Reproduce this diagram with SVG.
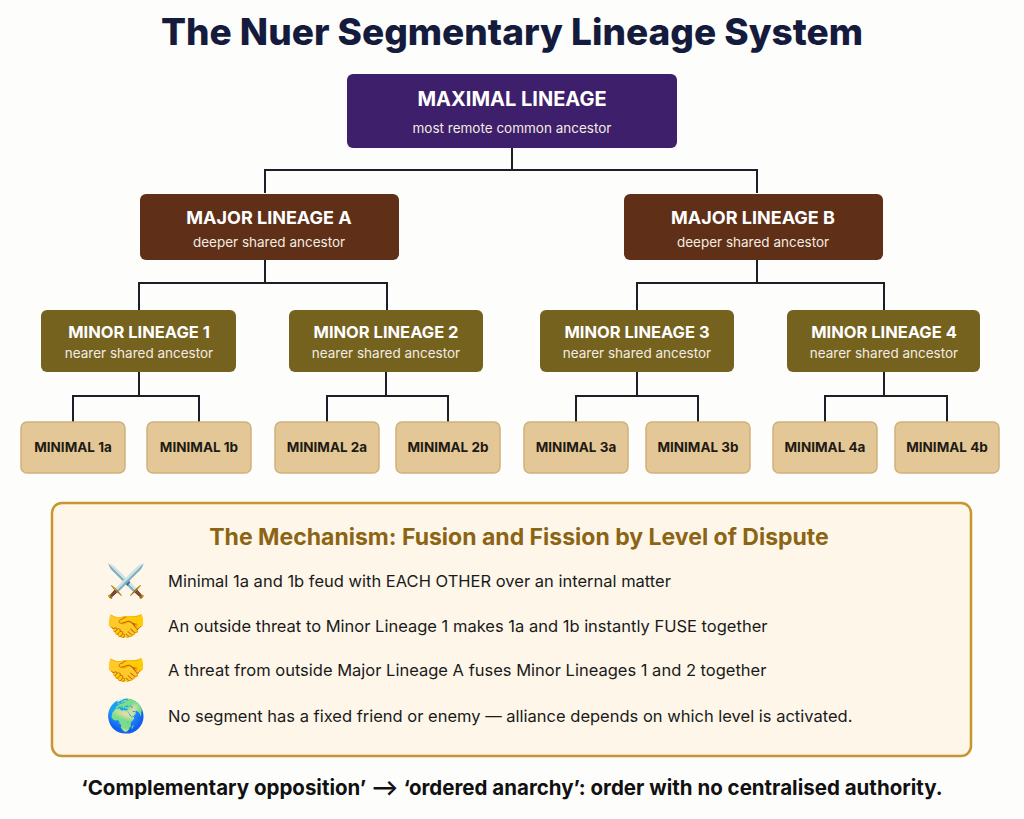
<svg xmlns="http://www.w3.org/2000/svg" width="1024" height="819" viewBox="0 0 1024 819">
<style>
text{font-family:Inter,"Liberation Sans",sans-serif;text-anchor:middle}
.t{font-weight:700;font-size:18px;fill:#fff}
.s{font-size:13.5px;fill:#f3ece0}
.mn{font-weight:700;font-size:13.5px;fill:#1e1a14}
.b{font-size:16.5px;fill:#1a1a1a;text-anchor:start}
.e{font-size:32px;font-family:"Noto Color Emoji","Apple Color Emoji","Segoe UI Emoji",sans-serif}
.min{fill:#e4c796;stroke:#d2b07a;stroke-width:1.5}
.c{fill:none;stroke:#1e1e2a;stroke-width:2}
</style>
<rect width="1024" height="819" fill="#fdfdfc"/>
<text x="512" y="45" style="font-weight:800;font-size:37px;fill:#141b3c">The Nuer Segmentary Lineage System</text>
<g id="connectors" class="c">
<path d="M512 148V170M265 193V170H757V193"/>
<path d="M265 260V283M139 310V283H387V310"/>
<path d="M757 260V283M637 310V283H884V310"/>
<path d="M139 372V396M73 422V396H199V422"/>
<path d="M386 372V396M327 422V396H448V422"/>
<path d="M637 372V396M576 422V396H698V422"/>
<path d="M884 372V396M825 422V396H947V422"/>
</g>
<g id="maximal"><rect x="347" y="74" width="330" height="74" rx="6" fill="#3e1f6c"/><text class="t" x="512" y="106" style="font-size:20px">MAXIMAL LINEAGE</text><text class="s" x="512" y="133">most remote common ancestor</text></g>
<g id="majorA"><rect x="140" y="194" width="259" height="66" rx="6" fill="#5f2f17"/><text class="t" x="269" y="224">MAJOR LINEAGE A</text><text class="s" x="269" y="247">deeper shared ancestor</text></g>
<g id="majorB"><rect x="624" y="194" width="259" height="66" rx="6" fill="#5f2f17"/><text class="t" x="753" y="224">MAJOR LINEAGE B</text><text class="s" x="753" y="247">deeper shared ancestor</text></g>
<g id="minor1"><rect x="41" y="310" width="195" height="62" rx="6" fill="#76621f"/><text class="t" x="139" y="338" style="font-size:16.5px">MINOR LINEAGE 1</text><text class="s" x="139" y="358">nearer shared ancestor</text></g>
<g id="minor2"><rect x="289" y="310" width="194" height="62" rx="6" fill="#76621f"/><text class="t" x="386" y="338" style="font-size:16.5px">MINOR LINEAGE 2</text><text class="s" x="386" y="358">nearer shared ancestor</text></g>
<g id="minor3"><rect x="540" y="310" width="194" height="62" rx="6" fill="#76621f"/><text class="t" x="637" y="338" style="font-size:16.5px">MINOR LINEAGE 3</text><text class="s" x="637" y="358">nearer shared ancestor</text></g>
<g id="minor4"><rect x="787" y="310" width="193" height="62" rx="6" fill="#76621f"/><text class="t" x="884" y="338" style="font-size:16.5px">MINOR LINEAGE 4</text><text class="s" x="884" y="358">nearer shared ancestor</text></g>
<g id="min1a"><rect class="min" x="21" y="422" width="104" height="51" rx="6"/><text class="mn" x="73" y="452">MINIMAL 1a</text></g>
<g id="min1b"><rect class="min" x="147" y="422" width="104" height="51" rx="6"/><text class="mn" x="199" y="452">MINIMAL 1b</text></g>
<g id="min2a"><rect class="min" x="275" y="422" width="104" height="51" rx="6"/><text class="mn" x="327" y="452">MINIMAL 2a</text></g>
<g id="min2b"><rect class="min" x="396" y="422" width="104" height="51" rx="6"/><text class="mn" x="448" y="452">MINIMAL 2b</text></g>
<g id="min3a"><rect class="min" x="524" y="422" width="104" height="51" rx="6"/><text class="mn" x="576" y="452">MINIMAL 3a</text></g>
<g id="min3b"><rect class="min" x="646" y="422" width="104" height="51" rx="6"/><text class="mn" x="698" y="452">MINIMAL 3b</text></g>
<g id="min4a"><rect class="min" x="773" y="422" width="104" height="51" rx="6"/><text class="mn" x="825" y="452">MINIMAL 4a</text></g>
<g id="min4b"><rect class="min" x="895" y="422" width="104" height="51" rx="6"/><text class="mn" x="947" y="452">MINIMAL 4b</text></g>
<g id="mechanism">
<rect x="52" y="503" width="919" height="253" rx="10" fill="#fdf6e9" stroke="#c8952e" stroke-width="2.5"/>
<text x="519" y="545" style="font-weight:700;font-size:23px;fill:#8b6414">The Mechanism: Fusion and Fission by Level of Dispute</text>
<text class="e" x="126" y="592">⚔️</text>
<text class="e" x="126" y="637">🤝</text>
<text class="e" x="126" y="681">🤝</text>
<text class="e" x="126" y="727">🌍</text>
<text class="b" x="168" y="587">Minimal 1a and 1b feud with EACH OTHER over an internal matter</text>
<text class="b" x="168" y="632">An outside threat to Minor Lineage 1 makes 1a and 1b instantly FUSE together</text>
<text class="b" x="168" y="676">A threat from outside Major Lineage A fuses Minor Lineages 1 and 2 together</text>
<text class="b" x="168" y="722">No segment has a fixed friend or enemy — alliance depends on which level is activated.</text>
</g>
<text x="512" y="795" style="font-weight:700;font-size:20.5px;fill:#111">‘Complementary opposition’ ⟶ ‘ordered anarchy’: order with no centralised authority.</text>
</svg>
